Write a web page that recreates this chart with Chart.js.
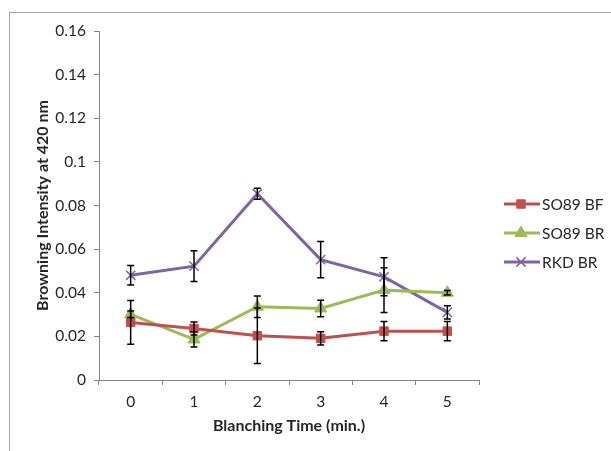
<!DOCTYPE html>
<html>
<head>
<meta charset="utf-8">
<script src="https://cdn.jsdelivr.net/npm/chart.js@4"></script>
<style>
    body { margin: 0; background: #fff; overflow: hidden; }
    #frame {
        position: absolute; left: 9px; top: 12px; width: 700px; height: 500px;
        border-top: 1px solid #a6a6a6; border-left: 1px solid #a6a6a6;
    }
    #browningChart { position: absolute; left: 0; top: 0; }
</style>
</head>
<body>
<div id="frame"></div>
<canvas id="browningChart" width="611" height="451"></canvas>
<script>
const blanchingTimes = ["0", "1", "2", "3", "4", "5"];

const so89Bf = [0.0264, 0.0236, 0.0203, 0.0191, 0.0224, 0.0224];
const so89BfErr = [0.010, 0.003, 0.0127, 0.003, 0.0044, 0.0044];

const so89Br = [0.0301, 0.0186, 0.0336, 0.0328, 0.0412, 0.040];
const so89BrErr = [0.0015, 0.0035, 0.0049, 0.0038, 0.0103, 0.001];

const rkdBr = [0.048, 0.0522, 0.0854, 0.0552, 0.0473, 0.031];
const rkdBrErr = [0.0045, 0.007, 0.0025, 0.0083, 0.0087, 0.003];

const yTicks = [0, 0.02, 0.04, 0.06, 0.08, 0.1, 0.12, 0.14, 0.16];

const axisGrey = "#868686";
const textColor = "#262626";
const fontFamily = "Lato, 'Open Sans', sans-serif";

// error bars, drawn over the lines like in Excel
const errorBars = {
    id: "errorBars",
    afterDatasetsDraw(chart) {
        const ctx = chart.ctx;
        const yScale = chart.scales.y;
        ctx.save();
        ctx.strokeStyle = "#000";
        ctx.lineWidth = 1.5;
        chart.data.datasets.forEach((ds, i) => {
            const meta = chart.getDatasetMeta(i);
            meta.data.forEach((pt, j) => {
                const v = ds.data[j];
                const e = ds.errors[j];
                const top = yScale.getPixelForValue(v + e);
                const bot = yScale.getPixelForValue(v - e);
                ctx.beginPath();
                ctx.moveTo(pt.x, top);
                ctx.lineTo(pt.x, bot);
                ctx.moveTo(pt.x - 3.5, top);
                ctx.lineTo(pt.x + 3.5, top);
                ctx.moveTo(pt.x - 3.5, bot);
                ctx.lineTo(pt.x + 3.5, bot);
                ctx.stroke();
            });
        });
        ctx.restore();
    },
};

// legend with line + marker samples
const lineLegend = {
    id: "lineLegend",
    afterDraw(chart) {
        const ctx = chart.ctx;
        const rows = [204, 233, 262];
        ctx.save();
        ctx.font = "15.5px " + fontFamily;
        ctx.textBaseline = "middle";
        chart.data.datasets.forEach((ds, i) => {
            const y = rows[i];
            ctx.strokeStyle = ds.borderColor;
            ctx.lineWidth = 3;
            ctx.beginPath();
            ctx.moveTo(504, y);
            ctx.lineTo(540, y);
            ctx.stroke();
            ctx.fillStyle = ds.pointBackgroundColor;
            ctx.strokeStyle = ds.pointBorderColor;
            ctx.lineWidth = ds.pointBorderWidth;
            Chart.helpers.drawPoint(ctx, {
                pointStyle: ds.pointStyle,
                radius: ds.pointRadius,
                borderWidth: ds.pointBorderWidth,
            }, 521, y);
            ctx.fillStyle = textColor;
            ctx.fillText(ds.label, 542, y + 1);
        });
        ctx.restore();
    },
};

new Chart(document.getElementById("browningChart"), {
    type: "line",
    data: {
        labels: blanchingTimes,
        datasets: [
            {
                label: "SO89 BF",
                data: so89Bf,
                errors: so89BfErr,
                borderColor: "#c0504d",
                borderWidth: 3,
                pointStyle: "rect",
                pointRadius: 6,
                pointBackgroundColor: "#c0504d",
                pointBorderColor: "#c0504d",
                pointBorderWidth: 1,
            },
            {
                label: "SO89 BR",
                data: so89Br,
                errors: so89BrErr,
                borderColor: "#9bbb59",
                borderWidth: 3,
                pointStyle: "triangle",
                pointRadius: 7,
                pointBackgroundColor: "#9bbb59",
                pointBorderColor: "#9bbb59",
                pointBorderWidth: 1,
            },
            {
                label: "RKD BR",
                data: rkdBr,
                errors: rkdBrErr,
                borderColor: "#8064a2",
                borderWidth: 3,
                pointStyle: "crossRot",
                pointRadius: 6.5,
                pointBackgroundColor: "#8064a2",
                pointBorderColor: "#8064a2",
                pointBorderWidth: 1.5,
            },
        ],
    },
    options: {
        responsive: false,
        animation: false,
        layout: { padding: { left: 30, top: 31, right: 132, bottom: 16 } },
        plugins: {
            legend: { display: false },
            tooltip: { enabled: false },
        },
        scales: {
            x: {
                offset: true,
                grid: {
                    offset: true,
                    drawOnChartArea: false,
                    color: axisGrey,
                    tickLength: 5,
                },
                border: { color: axisGrey },
                ticks: {
                    color: textColor,
                    padding: 8,
                    font: { size: 15.5, family: fontFamily },
                },
                title: {
                    display: true,
                    text: "Blanching Time (min.)",
                    color: textColor,
                    padding: { top: 0, bottom: 0 },
                    font: { size: 16, weight: "bold", family: fontFamily },
                },
                afterFit: (axis) => { axis.height = 55; },
            },
            y: {
                min: 0,
                max: 0.16,
                afterBuildTicks: (axis) => { axis.ticks = yTicks.map((v) => ({ value: v })); },
                grid: {
                    drawOnChartArea: false,
                    color: axisGrey,
                    tickLength: 5,
                },
                border: { color: axisGrey },
                ticks: {
                    color: textColor,
                    padding: 8,
                    font: { size: 15.5, family: fontFamily },
                    callback: (v) => String(+v.toFixed(2)),
                },
                title: {
                    display: true,
                    text: "Browning Intensity at 420 nm",
                    color: textColor,
                    padding: { top: 3, bottom: 0 },
                    font: { size: 16, weight: "bold", family: fontFamily },
                },
                afterFit: (axis) => { axis.width = 69; },
            },
        },
    },
    plugins: [errorBars, lineLegend],
});
</script>
</body>
</html>
